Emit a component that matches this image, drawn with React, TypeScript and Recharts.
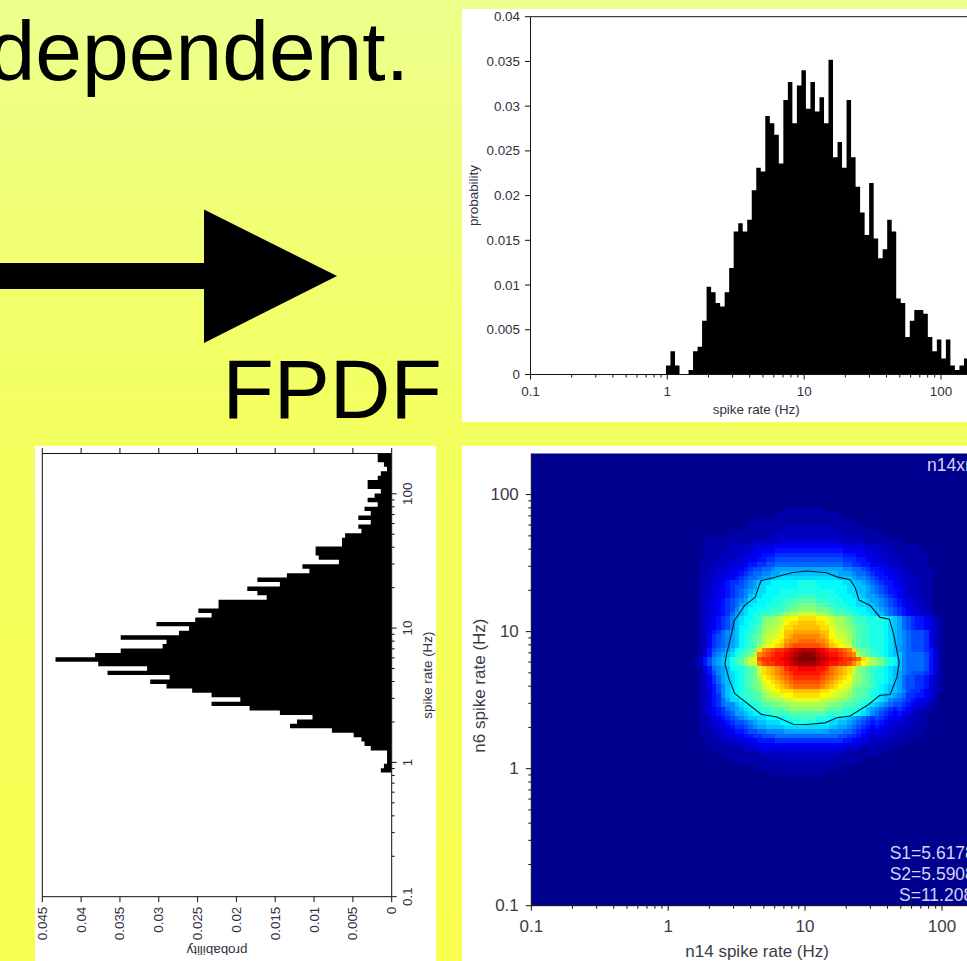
import React from 'react';
import {
  ComposedChart, ScatterChart, Area, Scatter, XAxis, YAxis, ReferenceArea,
} from 'recharts';

const FONT = '"Liberation Sans", Arial, sans-serif';
const TEXT = '#33303f';

// log axis runs 0.1 .. 199.5 Hz, 100 bins of 0.033 decades each
const RATE_MIN = 0.1;
const RATE_MAX = 199.5;
const BIN_DECADES = 0.033;

const logTicks = [
  0.1, 0.2, 0.3, 0.4, 0.5, 0.6, 0.7, 0.8, 0.9,
  1, 2, 3, 4, 5, 6, 7, 8, 9,
  10, 20, 30, 40, 50, 60, 70, 80, 90,
  100,
];
const decadeTicks = [0.1, 1, 10, 100];
const probTicksTop = [0, 0.005, 0.01, 0.015, 0.02, 0.025, 0.03, 0.035, 0.04];
const probTicksLeft = [0, 0.005, 0.01, 0.015, 0.02, 0.025, 0.03, 0.035, 0.04, 0.045];

// n14 histogram (top panel), bin 0 starts at 0.1 Hz
const n14Prob = [
  0, 0, 0, 0, 0, 0, 0, 0, 0, 0,
  0, 0, 0, 0, 0, 0, 0, 0, 0, 0,
  0, 0, 0, 0, 0, 0, 0, 0, 0, 0,
  0.001, 0.0026, 0.001, 0, 0, 0.0005, 0.0026, 0.0031, 0.006, 0.0098,
  0.0092, 0.008, 0.0076, 0.0092, 0.0119, 0.016, 0.0169, 0.016, 0.0173, 0.0206,
  0.0231, 0.0227, 0.0289, 0.0281, 0.0268, 0.0236, 0.0307, 0.0327, 0.0281, 0.0323,
  0.034, 0.0297, 0.0327, 0.0294, 0.031, 0.0281, 0.0352, 0.0243, 0.026, 0.0231,
  0.0307, 0.0243, 0.021, 0.0181, 0.0156, 0.0214, 0.0152, 0.013, 0.014, 0.0173,
  0.016, 0.0085, 0.008, 0.0042, 0.006, 0.0072, 0.0072, 0.0068, 0.0042, 0.0026,
  0.0039, 0.0018, 0.0039, 0.001, 0.0005, 0.001, 0.0018, 0.001, 0.0005, 0,
];

// n6 histogram (left panel), bin 0 starts at 0.1 Hz
const n6Prob = [
  0, 0, 0, 0, 0, 0, 0, 0, 0, 0,
  0, 0, 0, 0, 0, 0, 0, 0, 0, 0,
  0, 0, 0, 0, 0, 0, 0, 0, 0.0014, 0.001,
  0.0006, 0.0006, 0.0006, 0.0027, 0.0035, 0.0039, 0.0049, 0.0077, 0.0131, 0.0122,
  0.0102, 0.0144, 0.0183, 0.0232, 0.0195, 0.0232, 0.0257, 0.029, 0.0311, 0.0286,
  0.0366, 0.0315, 0.0378, 0.0433, 0.0382, 0.0349, 0.0295, 0.029, 0.0349, 0.0274,
  0.0261, 0.0303, 0.0253, 0.0232, 0.0249, 0.0223, 0.0223, 0.0161, 0.0173, 0.0186,
  0.0144, 0.0173, 0.0135, 0.0106, 0.0115, 0.0068, 0.0094, 0.0098, 0.0098, 0.0064,
  0.0064, 0.006, 0.0039, 0.0043, 0.0027, 0.0043, 0.0027, 0.0035, 0.0018, 0.0031,
  0.0022, 0.0014, 0.0031, 0.0031, 0.0018, 0.0014, 0.0006, 0.001, 0.0018, 0.0018,
];

// joint FPDF, one char per cell (0-9a-z = jet level 0-35)
// first row is heatFirstRow counted from the top, first column is heatFirstCol
const heatFirstRow = 12;
const heatFirstCol = 36;
const heatRows = [
  '00000 00000 00000 00000 11111 11110 00000 00000 00000 00000 00000',
  '00000 00000 00000 00011 11111 11111 11000 00000 00000 00000 00000',
  '00000 00000 00001 11111 11111 11111 11110 00000 00000 00000 00000',
  '00000 00000 00111 11111 11111 11111 11111 10000 00000 00000 00000',
  '00000 00000 00111 11111 22222 22222 21111 11100 00000 00000 00000',
  '00000 00011 11111 11122 22222 22222 22211 11111 10000 00000 00000',
  '00011 11111 11111 11222 22222 22222 22222 11111 11100 00000 00000',
  '00111 11111 11122 22223 33333 33333 33222 22211 11111 10000 00000',
  '00111 11122 22233 33344 44444 44444 44433 33322 22211 11111 00000',
  '00111 11222 22334 44455 55555 55555 55544 44333 22221 11111 10000',
  '00111 12222 23344 55566 66666 66666 66655 54433 32222 11111 11000',
  '01111 22223 33445 56677 77777 77777 77766 65543 33222 21111 11000',
  '01112 22233 34556 67788 88888 88888 88877 66554 43322 21111 11000',
  '01122 23334 45677 889aa aaaaa aaaaa aaa99 88765 54433 22211 11100',
  '01122 33344 56788 99aab bbbbb bbbbb bbaaa 98876 55443 32221 11100',
  '01122 33445 67889 aabcc ccccc ccccc ccbbb a9987 65544 33222 11100',
  '01223 34566 789ab ccddd dddee eeddd dddcc bba98 76554 32221 11100',
  '01223 34567 789ac cdddd dddee eeedd ddddc cbba9 87654 43222 11100',
  '01223 44567 89abc cddde eeeee eeeee edddc cbba9 87655 43222 11100',
  '01223 44567 89bcc dddee eeeff ffeee eeddd ccbaa 98765 43322 21100',
  '01233 45678 9accd ddeee ffggg ggfff eeedd dccba a9876 54332 21100',
  '01233 45678 abcdd deeef fgghh hhggf feeed dccbb a9876 54332 21100',
  '01233 45679 bcdde eefff ghhii iihhh gfffe eddcc ba987 65433 22100',
  '01233 4568a bcdee ffggh ijjkk kkjji hggff eeddc bb987 65433 22100',
  '01234 5679b cddef hiijk lmmnn nnmml kjjih gffee eedcb a8765 54321',
  '01234 5679b cdeef hijjk mnnoo oonnm kjjih gffee eedcb a8765 54321',
  '01234 5679b ddefg ijjkl nnooo ooonn lkjji hgffe eedcb a8765 54321',
  '01245 689ab deefg ijkkm ooppp pppoo mkkji hgffe eedcb a9877 76421',
  '01246 789ab defgh jkklm opqqq qqqpo mlkkj hgffe eedcb a9877 76421',
  '01246 789ab defgh jklmn pqqrr rrqqp nmlkj hgffe eedcb a9877 76421',
  '01246 789ab defgi klmno qrsss sssrq onmlk hgffe eedcb a9877 76421',
  '01357 89abd efghn qrstt uvwxx xxwvu ttsrq nhhgf eedcb a9877 76531',
  '01358 9abce fghjq rstuu vwxyz zyxwv uutsr qjhgf fedcb b9888 87531',
  '12579 abcef gikms ttuuv wxyzz zzyxw vvutt srnlj ihfed b9888 87531',
  '12579 abcef gikkq sttuu vwxyy yyxwv uutts qomkj ihfed b9888 87531',
  '01358 9abde efghk nopqr tuuvv vvuut rqpon kihgf eedcb b9888 87531',
  '01357 9abcd efghk nopqr stuuu uuuts rqpon kihgf eedcb a9877 76531',
  '01246 8abcd efghj mnopq rsttt tttsr qponm jihgf eedcb a8776 65321',
  '01246 8abcd efghi lmnop qrsss sssrq ponml jihgf eedcb a8776 65321',
  '01245 79bcd efghi klmno pqrrr rrrqp onmlk ihggf edcbb a8776 65321',
  '01235 79bcd effgh jklmn nnooo ooonn mlkkj hggfe edcbb a9766 54321',
  '01235 69bcd effgg ijkkl mmnnn nnnmm lkkji hggfe dcbba 98665 54310',
  '01235 68acc deffg hiijj kklll lllkk jjiih ggffe dcb98 87654 43210',
  '01235 6899b cdeef gghhi ijjjj jjjji ihhgg ffedc ba987 76543 32110',
  '01234 5689a bcdee ffggg hiiii iiiih gggff eedba 98765 65432 21100',
  '01234 5678a abcdd eefff fgggg ggggf fffee edcb9 87654 54322 11000',
  '01123 45678 9abbc cdddd eefff ffeee ddccb a9876 76544 43221 11000',
  '01123 34567 789ab bcccd ddeee eeddd ccbba 98765 65433 32221 11000',
  '01122 33456 6789a abbbb ccccc ccccc bbaa9 87654 54332 22211 10000',
  '01112 23345 56778 89999 aaaaa aaaaa 99988 76543 43322 21111 10000',
  '00112 22334 45566 77788 88888 88888 88776 65432 33222 11111 00000',
  '00111 12223 33445 55566 66666 66666 66655 44332 22211 11100 00000',
  '00011 11122 22334 44444 44444 44444 44443 33222 11111 10000 00000',
  '00001 11111 12223 33333 33333 33333 33322 22111 11100 00000 00000',
  '00000 01111 11112 22222 22222 22222 22211 11111 10000 00000 00000',
  '00000 00011 11111 11222 22222 22222 21111 11100 00000 00000 00000',
  '00000 00000 11111 11111 11111 11111 11111 10000 00000 00000 00000',
  '00000 00000 00001 11111 11111 11111 11000 00000 00000 00000 00000',
  '00000 00000 00000 00111 11111 11110 00000 00000 00000 00000 00000',
];

// contour line of the joint FPDF, in Hz
const contourN14 = [
  10.3, 14.4, 17.1, 21.3, 23.2, 24.8, 29.9, 35.4, 41.4, 44.3, 46.9, 48.7,
  46.9, 41.9, 35.0, 29.1, 21.3, 17.1, 14.0, 10.3, 8.2, 6.2, 4.8, 3.96,
  3.07, 2.78, 2.60, 2.67, 2.83, 3.04, 3.64, 4.31, 4.76, 6.03, 7.99, 10.3,
];
const contourN6 = [
  27.7, 26.9, 25.1, 23.9, 21.0, 17.0, 15.5, 12.7, 12.3, 9.6, 7.27, 5.98,
  4.65, 3.48, 3.42, 2.94, 2.42, 2.35, 2.16, 2.10, 2.11, 2.38, 2.49, 2.89,
  3.52, 4.52, 5.82, 6.87, 8.60, 12.0, 15.6, 17.8, 23.5, 24.9, 26.9, 27.7,
];

const binEdge = (i: number) => RATE_MIN * Math.pow(10, BIN_DECADES * i);

const histTable = (probs: number[]) => [
  ...probs.map((p, i) => ({ rate: binEdge(i), p })),
  { rate: RATE_MAX, p: 0 },
];

const jetStops = [
  [0, 0, 0, 143],
  [0.125, 0, 0, 255],
  [0.375, 0, 255, 255],
  [0.625, 255, 255, 0],
  [0.875, 255, 0, 0],
  [1, 128, 0, 0],
];

const jet = (t: number) => {
  let k = 0;
  while (k < jetStops.length - 2 && t > jetStops[k + 1][0]) k++;
  const a = jetStops[k];
  const b = jetStops[k + 1];
  const f = (t - a[0]) / (b[0] - a[0]);
  const c = [1, 2, 3].map((n) => Math.round(a[n] + (b[n] - a[n]) * f));
  return `rgb(${c[0]},${c[1]},${c[2]})`;
};

const heatCells: { x: number; y: number; level: number }[] = [];
heatRows.forEach((row, r) => {
  row.replace(/ /g, '').split('').forEach((ch, c) => {
    const level = parseInt(ch, 36);
    if (level === 0) return;
    heatCells.push({
      x: binEdge(heatFirstCol + c + 0.5),
      y: binEdge(99.5 - (heatFirstRow + r)),
      level,
    });
  });
});

const contourPoints = contourN14.map((x, i) => ({ x, y: contourN6[i] }));

const HeatCell = (props: any) => {
  const { cx, cy, payload } = props;
  return (
    <rect
      x={cx - 2.3}
      y={cy - 2.3}
      width={5.2}
      height={5.2}
      fill={jet(payload.level / 35)}
      shapeRendering="crispEdges"
    />
  );
};

const NoDot = () => null;

type Side = 'left' | 'right' | 'top' | 'bottom';

interface TickCfg {
  side: Side;
  len?: number;
  minorLen?: number;
  gap?: number;
  size?: number;
  angle?: number;
  anchor?: 'start' | 'middle' | 'end';
  color?: string;
  major?: number[];
  label?: (v: number) => string;
}

// axes keep tickSize 0, so x/y come in on the axis line itself
const axisTick = (cfg: TickCfg) => (props: any) => {
  const { x, y, payload } = props;
  const v = payload.value;
  const isMajor = !cfg.major || cfg.major.includes(v);
  const len = isMajor ? cfg.len ?? 5 : cfg.minorLen ?? 3;
  const dx = cfg.side === 'left' ? -1 : cfg.side === 'right' ? 1 : 0;
  const dy = cfg.side === 'top' ? -1 : cfg.side === 'bottom' ? 1 : 0;
  const text = isMajor && cfg.label ? cfg.label(v) : '';
  const tx = x + dx * (cfg.gap ?? 0);
  const ty = y + dy * (cfg.gap ?? 0);
  return (
    <g>
      <line x1={x} y1={y} x2={x + dx * len} y2={y + dy * len} stroke="#111" />
      {text && (
        <text
          x={tx}
          y={ty}
          textAnchor={cfg.anchor ?? 'middle'}
          dominantBaseline="central"
          transform={cfg.angle ? `rotate(${cfg.angle} ${tx} ${ty})` : undefined}
          fontSize={cfg.size ?? 13.4}
          fontFamily={FONT}
          fill={cfg.color ?? TEXT}
        >
          {text}
        </text>
      )}
    </g>
  );
};

const label = (v: number) => String(v);
const titleStyle = { fontFamily: FONT, fontSize: 13.4, fill: TEXT, textAnchor: 'middle' as const };

const rateAxis = {
  type: 'number' as const,
  scale: 'log' as const,
  domain: [RATE_MIN, RATE_MAX],
  ticks: logTicks,
  interval: 0 as const,
  allowDataOverflow: true,
  tickLine: false,
  tickSize: 0,
  tickMargin: 0,
  stroke: '#111',
};

const probAxis = {
  type: 'number' as const,
  interval: 0 as const,
  allowDataOverflow: true,
  tickLine: false,
  tickSize: 0,
  tickMargin: 0,
  stroke: '#111',
};

const panel = (left: number, top: number, width: number, height: number): React.CSSProperties => ({
  position: 'absolute', left, top, width, height, background: '#fff', overflow: 'hidden',
});

const TopHistogram = () => (
  <div style={panel(462, 9, 505, 412.5)}>
    <ComposedChart width={530} height={412} data={histTable(n14Prob)} margin={{ top: 0, right: 10, bottom: 0, left: 0 }}>
      <XAxis
        {...rateAxis}
        dataKey="rate"
        height={46.5}
        tick={axisTick({ side: 'bottom', major: decadeTicks, gap: 16.5, label, len: 5, minorLen: 3 })}
        label={{ value: 'spike rate (Hz)', position: 'insideBottom', offset: 7, style: titleStyle }}
      />
      <XAxis
        {...rateAxis}
        xAxisId="top"
        orientation="top"
        height={7.7}
        tick={axisTick({ side: 'top', major: decadeTicks, len: 5, minorLen: 3 })}
      />
      <YAxis
        {...probAxis}
        domain={[0, 0.04]}
        ticks={probTicksTop}
        width={68.5}
        tick={axisTick({ side: 'left', gap: 10.5, anchor: 'end', label, len: 5.5 })}
        label={{ value: 'probability', angle: -90, position: 'insideLeft', offset: 11, style: titleStyle }}
      />
      <Area
        dataKey="p"
        type="stepAfter"
        fill="#000"
        fillOpacity={1}
        stroke="none"
        dot={false}
        activeDot={false}
        isAnimationActive={false}
      />
    </ComposedChart>
  </div>
);

const LeftHistogram = () => (
  <div style={panel(35, 446, 401, 515)}>
    <ComposedChart layout="vertical" width={401} height={515} data={histTable(n6Prob)} margin={{ top: 0, right: 0, bottom: 0, left: 0 }}>
      <XAxis
        {...probAxis}
        domain={[0, 0.045]}
        reversed
        ticks={probTicksLeft}
        height={64.3}
        tick={axisTick({ side: 'bottom', gap: 10, anchor: 'end', angle: -90, label, len: 5.5 })}
        label={{ value: 'probability', angle: 180, position: 'insideBottom', offset: 15, style: titleStyle }}
      />
      <XAxis
        {...probAxis}
        xAxisId="top"
        orientation="top"
        domain={[0, 0.045]}
        reversed
        ticks={probTicksLeft}
        height={7.5}
        tick={axisTick({ side: 'top', len: 5.5 })}
      />
      <YAxis
        {...rateAxis}
        dataKey="rate"
        orientation="right"
        reversed
        width={44.3}
        tick={axisTick({ side: 'right', major: decadeTicks, gap: 16, angle: -90, label, len: 5, minorLen: 3 })}
        label={{ value: 'spike rate (Hz)', angle: -90, position: 'insideRight', offset: 9, style: titleStyle }}
      />
      <YAxis
        {...rateAxis}
        yAxisId="mirror"
        orientation="left"
        reversed
        width={7.3}
        tick={axisTick({ side: 'left', major: decadeTicks, len: 5.5, minorLen: 3 })}
      />
      <Area
        dataKey="p"
        type="stepBefore"
        fill="#000"
        fillOpacity={1}
        stroke="none"
        dot={false}
        activeDot={false}
        isAnimationActive={false}
      />
    </ComposedChart>
  </div>
);

const HEAT_FONT = 17;

const heatTitle = { fontFamily: FONT, fontSize: HEAT_FONT, fill: '#3c3c44', textAnchor: 'middle' as const };

const statLine = (left: number, top: number, text: string) => (
  <div
    style={{
      position: 'absolute', left, top, fontFamily: FONT, fontSize: 17.5, lineHeight: '20px',
      color: '#d4d4f4', whiteSpace: 'nowrap',
    }}
  >
    {text}
  </div>
);

const JointMap = () => (
  <div style={panel(462, 446, 505, 515)}>
    <ScatterChart width={530} height={515} margin={{ top: 7.5, right: 9, bottom: 0, left: 0 }}>
      <XAxis
        {...rateAxis}
        dataKey="x"
        height={55.3}
        tick={axisTick({ side: 'bottom', major: decadeTicks, gap: 20.3, size: HEAT_FONT, color: '#3c3c44', label, len: 5, minorLen: 3 })}
        label={{ value: 'n14 spike rate (Hz)', position: 'insideBottom', offset: 4, style: heatTitle }}
      />
      <YAxis
        {...rateAxis}
        dataKey="y"
        width={69.3}
        tick={axisTick({ side: 'left', major: decadeTicks, gap: 12.5, anchor: 'end', size: HEAT_FONT, color: '#3c3c44', label, len: 5.5, minorLen: 3 })}
        label={{ value: 'n6 spike rate (Hz)', angle: -90, position: 'insideLeft', offset: 16.7, dy: 6, style: heatTitle }}
      />
      <ReferenceArea x1={RATE_MIN} x2={RATE_MAX} y1={RATE_MIN} y2={RATE_MAX} fill="#00008f" fillOpacity={1} stroke="none" />
      <Scatter data={heatCells} shape={HeatCell} isAnimationActive={false} />
      <Scatter
        data={contourPoints}
        shape={NoDot}
        line={{ stroke: '#0a1a2a', strokeWidth: 1.1 }}
        isAnimationActive={false}
      />
    </ScatterChart>
    {statLine(465, 9, 'n14xn6')}
    {statLine(427.7, 397, 'S1=5.6178')}
    {statLine(427.7, 418, 'S2=5.5908')}
    {statLine(437, 439, 'S=11.208')}
  </div>
);

export default function App() {
  return (
    <div
      style={{
        position: 'absolute', left: 0, top: 0, width: 967, height: 961, overflow: 'hidden',
        background: 'linear-gradient(#edff8c 0%, #f3ff5e 45%, #f8ff50 100%)',
      }}
    >
      <svg width={967} height={440} style={{ position: 'absolute', left: 0, top: 0 }}>
        <text x={409} y={80} textAnchor="end" fontFamily={FONT} fontSize={84} fill="#000">dependent.</text>
        <text x={222.5} y={418} fontFamily={FONT} fontSize={84} fill="#000">FPDF</text>
        <rect x={0} y={263} width={204} height={26} fill="#000" />
        <polygon points="204,209.5 337,276 204,343" fill="#000" />
      </svg>
      <TopHistogram />
      <LeftHistogram />
      <JointMap />
    </div>
  );
}
